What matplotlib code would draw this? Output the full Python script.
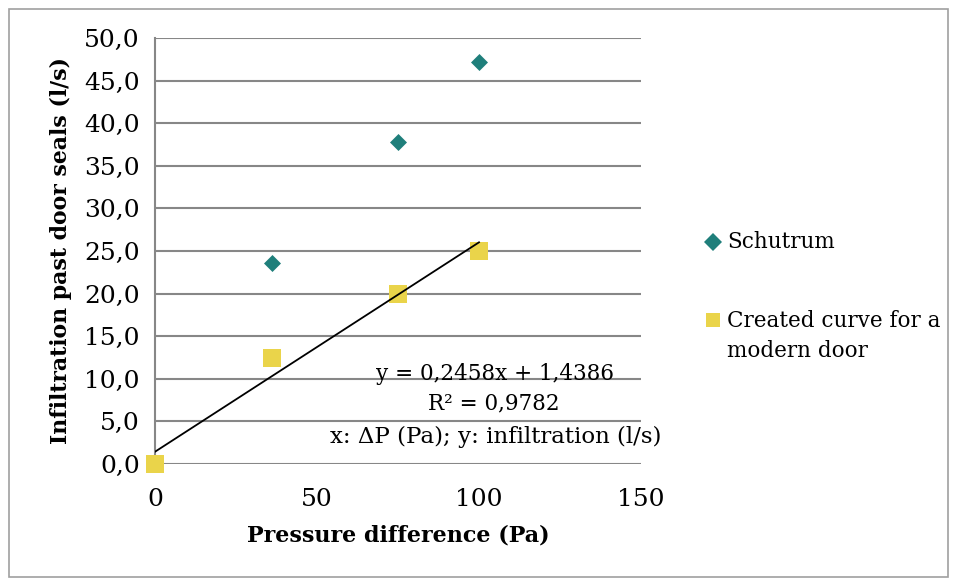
import matplotlib.pyplot as plt
from matplotlib.patches import Rectangle
from matplotlib.lines import Line2D
import numpy as np

plt.rcParams['font.family'] = ['DejaVu Serif']

# data
pressure = [0, 36, 75, 100]
schutrum = [0.0, 23.6, 37.8, 47.2]
modern_door = [0.0, 12.5, 20.0, 25.0]
slope, intercept = 0.2458, 1.4386
series_names = ['Schutrum', 'Created curve for a\nmodern door']

teal = '#1F7F7B'
yellow = '#EAD44A'
grid_col = '#878787'

W, H = 958, 580
fig = plt.figure(figsize=(W / 100, H / 100), dpi=100)
fig.patches.append(Rectangle((9 / W, 1 - 577 / H), 939 / W, 568 / H,
                             transform=fig.transFigure, fill=False,
                             edgecolor='#A0A0A0', linewidth=1.2))
ax = fig.add_axes([155 / W, 1 - 464 / H, 486 / W, 426 / H])

ax.scatter(pressure, schutrum, marker='D', s=75, color=teal, zorder=3,
           linewidths=0, clip_on=False)
ax.scatter(pressure, modern_door, marker='s', s=150, color=yellow, zorder=4,
           linewidths=0, clip_on=False)

xs = np.array([pressure[0], pressure[-1]])
ax.plot(xs, slope * xs + intercept, color='black', linewidth=1.3, zorder=5)

ax.set_xlim(0, 150)
ax.set_ylim(0, 50)
ax.set_xticks([0, 50, 100, 150])
ax.set_yticks(np.arange(0, 51, 5))
ax.set_yticklabels([f'{v:.1f}'.replace('.', ',') for v in np.arange(0, 51, 5)])
ax.tick_params(length=0, labelsize=18)
ax.tick_params(axis='y', pad=11)
ax.tick_params(axis='x', pad=17)
ax.grid(axis='y', color=grid_col, linewidth=1.5)
ax.set_axisbelow(True)
for s in ['top', 'right', 'bottom']:
    ax.spines[s].set_visible(False)
ax.spines['left'].set_color(grid_col)
ax.spines['left'].set_linewidth(1.5)

ax.set_xlabel('Pressure difference (Pa)', fontsize=16, fontweight='bold', labelpad=10)
ax.set_ylabel('Infiltration past door seals (l/s)', fontsize=15.8, fontweight='bold', labelpad=9)

ax.text(105, 10.6, 'y = 0,2458x + 1,4386', fontsize=15.5, ha='center', va='center')
ax.text(104.5, 7.1, 'R² = 0,9782', fontsize=15.5, ha='center', va='center')
ax.text(105, 3.2, 'x: ΔP (Pa); y: infiltration (l/s)', fontsize=16.5, ha='center', va='center')

# legend on the right, marker aligned with first text line as in Excel
fig.add_artist(Line2D([713 / W], [1 - 242 / H], marker='D', markersize=9,
                      color=teal, markeredgewidth=0, transform=fig.transFigure))
fig.text(727 / W, 1 - 242 / H, series_names[0], fontsize=15.5, va='center')
fig.add_artist(Line2D([713 / W], [1 - 320 / H], marker='s', markersize=10.5,
                      color=yellow, markeredgewidth=0, transform=fig.transFigure))
fig.text(727 / W, 1 - 336 / H, series_names[1], fontsize=15.5, va='center',
         linespacing=1.45)

fig.savefig('out.png', dpi=100)
